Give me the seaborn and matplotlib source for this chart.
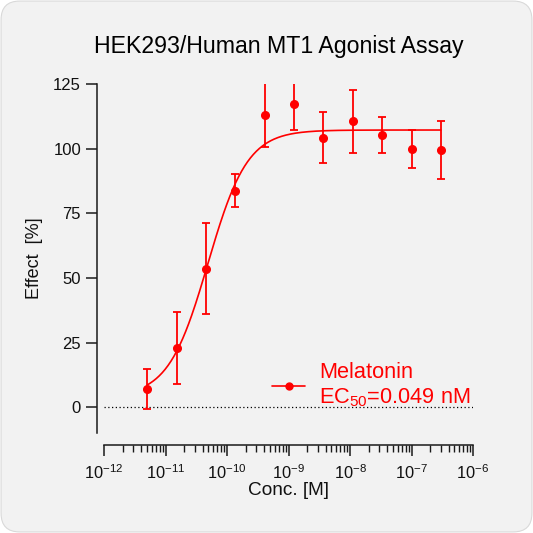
import numpy as np
import pandas as pd
import seaborn as sns
import matplotlib.pyplot as plt
from matplotlib.lines import Line2D
from matplotlib.patches import FancyBboxPatch
from matplotlib.ticker import LogLocator, LogFormatterSciNotation, FixedLocator

# measured points (3-fold dilution series, top 300 nM)
conc = [5.08e-12, 1.52e-11, 4.57e-11, 1.37e-10, 4.12e-10, 1.23e-9,
        3.70e-9, 1.11e-8, 3.33e-8, 1.0e-7, 3.0e-7]
effect = [7.0, 22.8, 53.6, 83.8, 113.2, 117.2, 104.3, 110.5, 105.4, 99.9, 99.5]
sd = [7.8, 14.0, 17.5, 6.5, 12.5, 10.0, 10.0, 12.0, 7.0, 7.3, 11.2]

# 4PL fit parameters
fit_bottom = 4.0
fit_top = 107.2
fit_logec50 = np.log10(0.049e-9)
fit_hill = 1.35

red = '#ff0000'

sns.set_theme(style='ticks')
plt.rcParams['font.family'] = ['Liberation Sans', 'DejaVu Sans']
plt.rcParams['mathtext.fontset'] = 'custom'
plt.rcParams['mathtext.rm'] = 'Liberation Sans'
plt.rcParams['mathtext.it'] = 'Liberation Sans'

fig = plt.figure(figsize=(5.33, 5.33), dpi=100)
fig.patch.set_alpha(0)
bg = FancyBboxPatch((0.002, 0.002), 0.996, 0.996, boxstyle='round,pad=0,rounding_size=0.035',
                    transform=fig.transFigure, facecolor='#f2f2f2', edgecolor='#d9d9d9',
                    linewidth=0.8, zorder=-10)
fig.patches.append(bg)

ax = fig.add_axes([104 / 533, 1 - 433 / 533, 369 / 533, 349 / 533])
ax.patch.set_visible(False)

# fitted curve
xs = np.logspace(np.log10(conc[0]), np.log10(conc[-1]), 300)
ys = fit_bottom + (fit_top - fit_bottom) / (1 + 10 ** ((fit_logec50 - np.log10(xs)) * fit_hill))
curve = pd.DataFrame({'conc': xs, 'effect': ys})
sns.lineplot(data=curve, x='conc', y='effect', color=red, linewidth=1.2, ax=ax, zorder=3)

ax.errorbar(conc, effect, yerr=sd, fmt='o', color=red, markersize=5.5, elinewidth=1.3,
            capsize=3.2, capthick=1.3, zorder=4, clip_on=True)

ax.axhline(0, color='black', linestyle=(0, (1, 2)), linewidth=0.9, zorder=1)

ax.set_xscale('log')
ax.set_xlim(1e-12, 1e-6)
ax.set_ylim(-10, 125)
ax.set_yticks([0, 25, 50, 75, 100, 125])
ax.xaxis.set_major_locator(FixedLocator([10.0 ** k for k in range(-12, -5)]))
ax.xaxis.set_minor_locator(LogLocator(base=10, subs=np.arange(2, 10), numticks=20))
ax.xaxis.set_major_formatter(LogFormatterSciNotation())

for s in ['top', 'right']:
    ax.spines[s].set_visible(False)
ax.spines['left'].set_position(('outward', 5))
ax.spines['bottom'].set_position(('outward', 8.6))
for s in ['left', 'bottom']:
    ax.spines[s].set_linewidth(1.1)
    ax.spines[s].set_color('#1a1a1a')

ax.tick_params(axis='both', which='major', length=8, width=1.1, color='#1a1a1a',
               labelcolor='#111111')
ax.tick_params(axis='y', labelsize=12, pad=3.5)
ax.tick_params(axis='x', labelsize=11.8, pad=5)
ax.tick_params(axis='x', which='minor', length=5, width=1.0, color='#1a1a1a')

ax.set_xlabel('Conc. [M]', fontsize=13.7, labelpad=0, color='#111111')
ax.set_ylabel('Effect  [%]', fontsize=13, labelpad=7, color='#111111')
fig.text(279 / 533, 1 - 46 / 533, 'HEK293/Human MT1 Agonist Assay', ha='center', va='center',
         fontsize=16.7, color='black')

handle = Line2D([], [], color=red, marker='o', markersize=5, linewidth=1.2)
leg = ax.legend([handle], ['Melatonin\nEC$_{50}$=0.049 nM'], loc='center left',
                bbox_to_anchor=(0.403, 0.135), frameon=False, fontsize=15.7,
                handlelength=1.5, handletextpad=0.65, labelcolor=red, labelspacing=0.2)

fig.savefig('out.png', dpi=100)
